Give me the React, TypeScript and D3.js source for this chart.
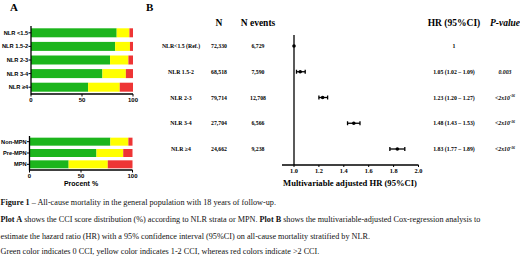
import React from "react";
import * as d3 from "d3";

const nlrCategories = ["NLR <1.5", "NLR 1.5-2", "NLR 2-3", "NLR 3-4", "NLR \u22654"];
const nlrGreen = [84, 82.5, 77.5, 70, 56];
const nlrYellow = [12.5, 14.5, 18, 23, 31];
const nlrRed = [3.5, 3, 4.5, 7, 13];

const mpnCategories = ["Non-MPN", "Pre-MPN", "MPN"];
const mpnGreen = [78.5, 65, 38];
const mpnYellow = [17.5, 26, 38];
const mpnRed = [4, 9, 24];

const pctTicks = [0, 50, 100];

const forestLabels = ["NLR<1.5 (Ref.)", "NLR 1.5-2", "NLR 2-3", "NLR 3-4", "NLR \u22654"];
const forestN = ["72,330", "68,518", "79,714", "27,704", "24,662"];
const forestEvents = ["6,729", "7,590", "12,708", "6,566", "9,238"];
const hr = [1, 1.05, 1.23, 1.48, 1.83];
const hrLow = [1, 1.02, 1.2, 1.43, 1.77];
const hrHigh = [1, 1.09, 1.27, 1.53, 1.89];
const hrText = ["1", "1.05 (1.02 \u2013 1.09)", "1.23 (1.20 \u2013 1.27)", "1.48 (1.43 \u2013 1.53)", "1.83 (1.77 \u2013 1.89)"];
const pText = ["", "0.003", "<2x10", "<2x10", "<2x10"];
const hrTicks = [1.0, 1.2, 1.4, 1.6, 1.8, 2.0];

const GREEN = "#1cb51c";
const YELLOW = "#ffff00";
const RED = "#ee3535";
const SANS = "Liberation Sans, Arial, sans-serif";
const SERIF = "Liberation Serif, Times New Roman, serif";

function StackedPanel({ cats, g, y, r, x0, x1, yTop, yBottom, barH, showTitle }: any) {
  const xs = d3.scaleLinear().domain([0, 100]).range([x0, x1]);
  const ys = d3.scaleBand().domain(cats).range([yTop, yBottom]).paddingInner(0.28).paddingOuter(0.14);
  const bw = barH ?? ys.bandwidth();
  return (
    <g>
      {cats.map((c: string, i: number) => {
        const cy = (ys(c) as number) + ys.bandwidth() / 2;
        const segs = [
          { s: 0, e: g[i], col: GREEN },
          { s: g[i], e: g[i] + y[i], col: YELLOW },
          { s: g[i] + y[i], e: g[i] + y[i] + r[i], col: RED },
        ];
        return (
          <g key={c}>
            {segs.map((sg, k) => (
              <rect key={k} x={xs(sg.s)} y={cy - bw / 2} width={Math.max(0, xs(sg.e) - xs(sg.s))} height={bw} fill={sg.col} />
            ))}
            <line x1={x0 - 2.5} x2={x0} y1={cy} y2={cy} stroke="#000" strokeWidth={1} />
            <text x={x0 - 2.8} y={cy} dy="0.35em" textAnchor="end" fontFamily={SANS} fontWeight="bold" fontSize={5.7}>{c}</text>
          </g>
        );
      })}
      <line x1={x0} x2={x0} y1={yTop} y2={yBottom + 0.5} stroke="#000" strokeWidth={1.3} />
      <line x1={x0} x2={x1} y1={yBottom} y2={yBottom} stroke="#000" strokeWidth={1.3} />
      {pctTicks.map((t) => (
        <g key={t}>
          <line x1={xs(t)} x2={xs(t)} y1={yBottom} y2={yBottom + 2.5} stroke="#000" strokeWidth={1} />
          <text x={xs(t)} y={yBottom + 7.5} textAnchor="middle" fontFamily={SANS} fontWeight="bold" fontSize={6}>{t}</text>
        </g>
      ))}
      {showTitle && (
        <text x={(x0 + x1) / 2} y={yBottom + 15.5} textAnchor="middle" fontFamily={SANS} fontWeight="bold" fontSize={7}>Procent %</text>
      )}
    </g>
  );
}

export default function App() {
  const rowY = d3.scaleLinear().domain([0, 4]).range([46, 149]);
  const hx = d3.scaleLinear().domain([1, 2]).range([294, 418.5]);
  const axisY = 165;
  return (
    <svg width={520} height={257} style={{ position: "absolute", left: 0, top: 0, background: "#fff" }}>
      <rect width={520} height={257} fill="#fff" />
      {/* Panel A */}
      <text x={10} y={11} fontFamily={SERIF} fontWeight="bold" fontSize={11}>A</text>
      <StackedPanel cats={nlrCategories} g={nlrGreen} y={nlrYellow} r={nlrRed} x0={31} x1={133} yTop={26} yBottom={94} barH={9} />
      <StackedPanel cats={mpnCategories} g={mpnGreen} y={mpnYellow} r={mpnRed} x0={29.5} x1={132.5} yTop={136} yBottom={170} barH={8} showTitle />

      {/* Panel B */}
      <text x={146} y={11} fontFamily={SERIF} fontWeight="bold" fontSize={11}>B</text>
      <text x={219} y={26} textAnchor="middle" fontFamily={SERIF} fontWeight="bold" fontSize={9.5}>N</text>
      <text x={258} y={26} textAnchor="middle" fontFamily={SERIF} fontWeight="bold" fontSize={9.5}>N events</text>
      <text x={454} y={26} textAnchor="middle" fontFamily={SERIF} fontWeight="bold" fontSize={9.5}>HR (95%CI)</text>
      <text x={505} y={26} textAnchor="middle" fontFamily={SERIF} fontWeight="bold" fontStyle="italic" fontSize={9.5}>P-value</text>

      {forestLabels.map((lab, i) => {
        const yy = rowY(i);
        return (
          <g key={lab}>
            <text x={181} y={yy} dy="0.35em" textAnchor="middle" fontFamily={SERIF} fontWeight="bold" fontSize={5.8}>{lab}</text>
            <text x={219} y={yy} dy="0.35em" textAnchor="middle" fontFamily={SERIF} fontWeight="bold" fontSize={5.8}>{forestN[i]}</text>
            <text x={258} y={yy} dy="0.35em" textAnchor="middle" fontFamily={SERIF} fontWeight="bold" fontSize={5.8}>{forestEvents[i]}</text>
            <text x={454} y={yy} dy="0.35em" textAnchor="middle" fontFamily={SERIF} fontWeight="bold" fontSize={5.8}>{hrText[i]}</text>
            {pText[i] && (
              <text x={505} y={yy} dy="0.35em" textAnchor="middle" fontFamily={SERIF} fontWeight="bold" fontStyle="italic" fontSize={5.8}>
                {pText[i]}
                {pText[i].startsWith("<") && (
                  <tspan dy="-2.2" fontSize={3.8}>-16</tspan>
                )}
              </text>
            )}
            {hrHigh[i] > hrLow[i] && (
              <g stroke="#000" strokeWidth={1.3}>
                <line x1={hx(hrLow[i])} x2={hx(hrHigh[i])} y1={yy} y2={yy} />
                <line x1={hx(hrLow[i])} x2={hx(hrLow[i])} y1={yy - 2} y2={yy + 2} />
                <line x1={hx(hrHigh[i])} x2={hx(hrHigh[i])} y1={yy - 2} y2={yy + 2} />
              </g>
            )}
            <circle cx={hx(hr[i])} cy={yy} r={1.8} fill="#000" />
          </g>
        );
      })}
      <line x1={hx(1)} x2={hx(1)} y1={35} y2={axisY} stroke="#000" strokeWidth={1.3} />
      <line x1={282} x2={hx(2)} y1={axisY} y2={axisY} stroke="#000" strokeWidth={1.3} />
      {hrTicks.map((t) => (
        <g key={t}>
          <line x1={hx(t)} x2={hx(t)} y1={axisY} y2={axisY + 2} stroke="#000" strokeWidth={1} />
          <text x={hx(t)} y={axisY + 8} textAnchor="middle" fontFamily={SERIF} fontWeight="bold" fontSize={6.3}>{t.toFixed(1)}</text>
        </g>
      ))}
      <text x={350} y={186} textAnchor="middle" fontFamily={SERIF} fontWeight="bold" fontSize={8.6}>Multivariable adjusted HR (95%CI)</text>

      {/* Caption */}
      <g fontFamily={SERIF} fontSize={8.2} fill="#111">
        <text x={0.5} y={205}><tspan fontWeight="bold">Figure 1</tspan> – All-cause mortality in the general population with 18 years of follow-up.</text>
        <text x={0.5} y={222}><tspan fontWeight="bold">Plot A</tspan> shows the CCI score distribution (%) according to NLR strata or MPN. <tspan fontWeight="bold">Plot B</tspan> shows the multivariable-adjusted Cox-regression analysis to</text>
        <text x={0.5} y={239}>estimate the hazard ratio (HR) with a 95% confidence interval (95%CI) on all-cause mortality stratified by NLR.</text>
        <text x={0.5} y={254}>Green color indicates 0 CCI, yellow color indicates 1-2 CCI, whereas red colors indicate &gt;2 CCI.</text>
      </g>
    </svg>
  );
}
